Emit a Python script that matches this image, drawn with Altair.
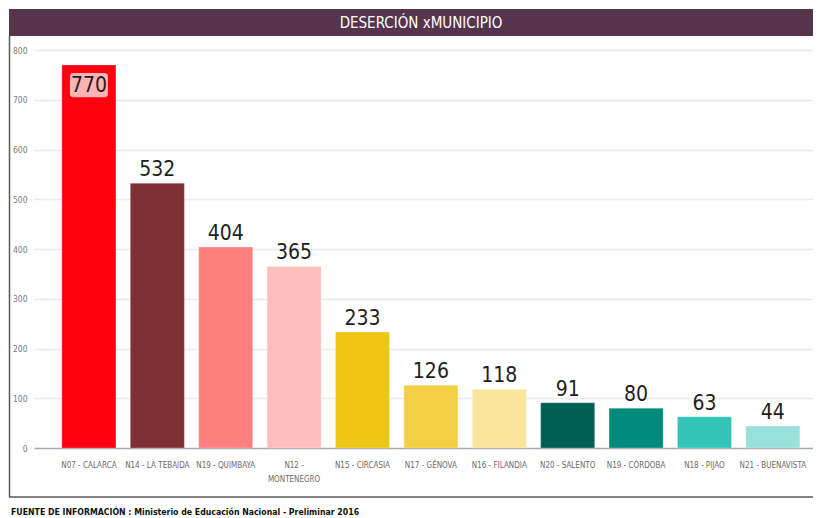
import altair as alt
import pandas as pd

categories = ["N07 - CALARCA", "N14 - LA TEBAIDA", "N19 - QUIMBAYA", "N12 - MONTENEGRO",
              "N15 - CIRCASIA", "N17 - GÉNOVA", "N16 - FILANDIA", "N20 - SALENTO",
              "N19 - CÓRDOBA", "N18 - PIJAO", "N21 - BUENAVISTA"]
values = [770, 532, 404, 365, 233, 126, 118, 91, 80, 63, 44]
colors = ["#FF0010", "#7E2F31", "#FF7F7F", "#FFBFBF", "#F0C614", "#F4D143",
          "#F9E69C", "#005F53", "#008A7B", "#33C5B8", "#99E2DA"]
inside = [True] + [False] * 10
y_ticks = [0, 100, 200, 300, 400, 500, 600, 700, 800]

title_text = "DESERCIÓN xMUNICIPIO"
footer_text = "FUENTE DE INFORMACIÓN : Ministerio de Educación Nacional - Preliminar 2016"

df = pd.DataFrame({"cat": categories, "val": values, "color": colors, "inside": inside})
box_df = pd.DataFrame({"cat": [categories[0]], "y1": [705], "y2": [754]})
one = alt.Data(values=[{"a": 1}])

W, H = 779, 398
NARROW = "'DejaVu Sans Condensed', 'Liberation Sans Narrow', 'Roboto', sans-serif"

x_enc = alt.X("cat:N", sort=categories, title=None,
              scale=alt.Scale(paddingInner=0.21, paddingOuter=0.3, align=0.68),
              axis=alt.Axis(labelFont=NARROW, labelFontSize=8, labelColor="#6b6b6b",
                            ticks=False, domain=False, grid=False, labelPadding=13,
                            labelAngle=0, labelLineHeight=14,
                            labelExpr="datum.label == 'N12 - MONTENEGRO' ? ['N12 -', 'MONTENEGRO'] : datum.label"))
y_scale = alt.Scale(domain=[0, 800], nice=False)

bars = alt.Chart(df).mark_bar(stroke="white", strokeOpacity=0.5, strokeWidth=0.5).encode(
    x=x_enc,
    y=alt.Y("val:Q", scale=y_scale, title=None,
            axis=alt.Axis(values=y_ticks, labelFont=NARROW, labelFontSize=8.5, labelColor="#7a7a7a",
                          ticks=False, domain=False, labelPadding=7,
                          gridColor={"condition": {"test": "datum.value === 0", "value": "#a8a8a8"},
                                     "value": "#ebebeb"},
                          gridWidth=1.5)),
    color=alt.Color("color:N", scale=None),
)

box = alt.Chart(box_df).mark_bar(width=38, color="#FFB3B3", cornerRadius=3).encode(
    x=alt.X("cat:N", sort=categories),
    y=alt.Y("y1:Q", scale=y_scale),
    y2="y2:Q",
)

lab_out = alt.Chart(df).transform_filter("!datum.inside").mark_text(
    font=NARROW, fontSize=21, baseline="alphabetic", dy=-7, color="#1e1e1e"
).encode(x=alt.X("cat:N", sort=categories), y=alt.Y("val:Q", scale=y_scale), text="val:Q")

lab_in = alt.Chart(df).transform_filter("datum.inside").mark_text(
    font=NARROW, fontSize=21, baseline="top", dy=10, color="#1e1e1e"
).encode(x=alt.X("cat:N", sort=categories), y=alt.Y("val:Q", scale=y_scale), text="val:Q")

band = alt.Chart(one).mark_rect(color="#56344C").encode(
    x=alt.value(-25), x2=alt.value(W), y=alt.value(-41), y2=alt.value(-14))
title = alt.Chart(one).mark_text(font=NARROW, fontSize=15, color="white", baseline="middle").encode(
    x=alt.value(387), y=alt.value(-27), text=alt.value(title_text))
left_line = alt.Chart(one).mark_rule(color="#5a5a5a", strokeWidth=1.5).encode(
    x=alt.value(-24.5), y=alt.value(-14), y2=alt.value(447))
bottom_line = alt.Chart(one).mark_rule(color="#5a5a5a", strokeWidth=1.5).encode(
    x=alt.value(-25), x2=alt.value(W), y=alt.value(447))
footer = alt.Chart(one).mark_text(font=NARROW, fontSize=8.7, fontWeight="bold", color="#111",
                                  align="left", baseline="middle").encode(
    x=alt.value(-23), y=alt.value(462), text=alt.value(footer_text))

chart = alt.layer(band, title, left_line, bottom_line, footer, bars, box, lab_out, lab_in).properties(
    width=W, height=H,
    autosize=alt.AutoSizeParams(type="none"),
    padding={"left": 26, "top": 42, "right": 0, "bottom": 510 - 440},
).configure_view(stroke=None)

chart.save("out.html", embed_options={"renderer": "svg", "actions": False})
